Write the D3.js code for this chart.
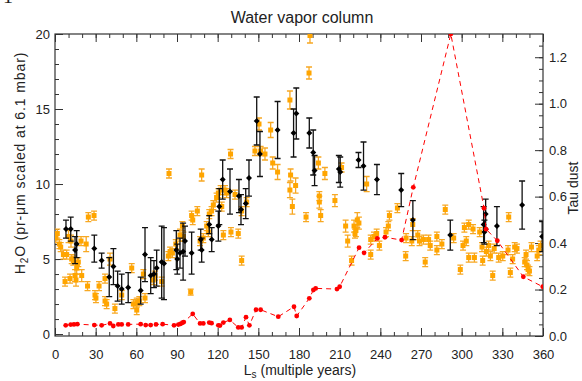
<!DOCTYPE html>
<html>
<head>
<meta charset="utf-8">
<script src="https://cdn.jsdelivr.net/npm/d3@7"></script>
<style>
  body { margin: 0; background: #fff; }
  svg { display: block; }
  text { font-family: "Liberation Sans", Arial, sans-serif; fill: #222; }
</style>
</head>
<body>
<div id="chart"></div>
<script>
// orange squares (H2O, left axis)
const lsOrange = [
  0.7,1.7,3.2,4.2,6.2,7.4,8.6,10.0,11.1,11.8,
  12.3,13.5,14.8,15.5,16.0,16.5,17.2,19.2,19.7,23.0,
  24.0,24.6,28.8,29.5,30.2,32.5,36.9,36.9,38.1,40.6,
  44.2,49.2,56.6,57.8,60.3,60.3,62.2,65.2,66.4,72.5,
  73.8,78.7,83.6,84.1,84.9,86.6,89.1,92.2,94.0,94.7,
  100.1,100.8,101.6,105.0,107.0,108.2,109.4,111.9,113.1,113.8,
  115.5,116.8,119.2,120.5,122.2,123.0,124.2,125.4,126.6,129.5,
  129.8,132.8,135.2,137.7,137.7,141.4,147.5,150.5,151.7,154.9,
  159.1,160.6,164.2,173.3,173.8,173.3,175.1,177.5,185.2,187.4,
  188.1,194.3,195.0,195.0,196.0,199.1,206.5,211.4,214.4,215.9,
  218.8,220.6,221.3,222.0,223.0,224.2,229.9,232.9,232.9,235.3,
  237.3,239.3,244.2,245.9,246.7,252.6,258.7,259.0,263.2,263.9,
  267.6,268.9,271.8,273.1,275.6,276.8,281.7,281.7,285.4,287.9,
  294.1,299.0,301.0,302.0,303.4,305.2,305.2,308.4,309.4,313.3,
  315.0,315.5,318.2,319.9,321.2,322.9,324.0,327.3,330.3,334.2,
  334.7,335.9,337.6,339.1,340.8,346.5,347.5,348.2,349.0,350.0,
  351.5,355.7,356.9,358.2
];
const h2oOrange = [
  6.4,6.7,6.0,5.8,5.3,3.5,5.3,6.5,3.7,6.2,
  5.0,4.9,3.9,3.6,4.4,4.7,4.8,6.2,3.9,6.0,
  3.2,7.8,7.9,2.6,2.4,3.2,3.7,2.2,2.0,5.0,
  1.7,2.6,4.4,2.0,2.1,1.6,2.2,4.0,2.4,3.6,
  3.9,3.5,5.2,10.7,5.5,5.4,6.0,6.6,7.2,6.5,
  2.8,7.9,7.6,8.2,6.2,10.6,6.4,7.2,6.8,8.0,
  8.2,8.6,9.1,9.4,9.6,8.5,6.6,9.6,9.4,12.0,
  6.8,9.3,6.7,4.9,8.2,8.8,12.2,14.0,12.2,12.0,
  13.6,11.4,10.8,15.6,10.6,9.6,8.5,9.9,7.8,17.4,
  19.9,11.4,9.2,8.8,7.9,10.7,8.9,11.1,7.2,6.2,
  4.9,7.2,6.7,6.9,7.6,7.4,10.0,6.3,5.3,6.5,
  6.7,5.9,6.8,7.2,7.9,8.4,5.2,6.4,6.2,7.3,
  6.6,6.2,6.3,4.8,6.3,5.9,6.5,5.6,6.0,8.3,
  6.4,4.3,5.9,7.1,6.2,7.3,5.1,7.0,5.1,6.8,
  5.8,4.9,5.5,5.9,5.2,3.9,5.7,5.1,5.2,5.6,
  7.8,4.1,5.0,5.8,5.7,4.8,5.3,4.6,4.3,4.2,
  5.8,5.2,5.6,5.9
];
const errOrange = [
  .3,.3,.3,.3,.3,.3,.3,.4,.3,.4,
  .3,.3,.4,.4,.4,.4,.3,.3,.4,.5,
  .3,.3,.3,.3,.3,.3,.3,.3,.3,.4,
  .3,.3,.3,.3,.3,.3,.3,.3,.3,.3,
  .3,.3,.3,.3,.3,.3,.3,.4,.3,.3,
  .2,.3,.3,.3,.3,.4,.3,.3,.3,.3,
  .3,.3,.3,.3,.3,.3,.3,.3,.3,.3,
  .3,.3,.3,.3,.3,.3,.3,.4,.3,.4,
  .5,.4,.5,.6,.4,.5,.5,.5,.3,.4,
  .5,.4,.3,.4,.4,.4,.4,.3,.4,.4,
  .3,.4,.3,.4,.5,.4,.5,.3,.3,.3,
  .3,.3,.3,.3,.3,.3,.3,.3,.3,.4,
  .3,.3,.3,.3,.3,.3,.3,.3,.3,.3,
  .3,.3,.3,.3,.3,.3,.3,.3,.3,.3,
  .3,.3,.3,.3,.3,.3,.3,.3,.3,.3,
  .3,.3,.3,.3,.3,.3,.3,.3,.3,.3,
  .3,.3,.3,.3
];

// black diamonds (H2O, left axis)
const lsBlack = [
  8.1,11.6,14.8,16.0,29.0,34.4,40.0,43.1,46.2,49.2,
  54.0,63.2,66.4,70.6,73.0,75.0,78.7,80.4,89.5,90.2,
  92.2,94.5,95.9,100.8,107.5,108.2,113.8,115.6,120.5,121.2,
  123.7,129.1,135.7,137.2,140.7,143.1,148.8,151.2,164.2,176.0,
  178.0,187.6,190.5,191.5,209.4,210.4,223.9,227.6,237.5,255.4,
  264.0,291.6,316.2,316.8,317.7,326.0,344.6,359.4
];
const h2oBlack = [
  7.0,7.0,5.6,6.0,5.7,4.9,3.8,4.5,3.2,3.0,
  3.1,2.9,5.3,3.9,4.0,4.4,4.8,4.7,5.6,5.0,
  5.4,5.5,6.2,5.4,6.3,5.6,7.3,6.3,7.2,8.5,
  10.3,9.5,9.2,8.3,8.7,10.4,14.2,12.0,13.6,13.4,
  14.7,13.4,12.1,10.9,11.0,10.8,11.6,11.2,10.3,9.6,
  7.6,6.6,7.3,6.8,8.0,7.2,8.6,6.5
];
const errBlack = [
  .6,.8,.9,.9,.9,.5,1.3,1.2,1.0,1.0,
  1.0,.9,1.8,1.2,.9,1.2,2.4,2.4,1.3,1.0,
  1.0,1.9,1.0,1.4,.7,.8,.6,.8,1.0,1.2,
  1.3,1.5,1.1,1.0,1.0,1.2,1.6,1.5,1.9,1.6,
  1.7,1.0,1.5,1.0,.9,1.0,.5,1.6,1.0,1.1,
  1.3,1.0,1.2,.8,1.0,1.3,1.6,1.0
];

// red dots (tau dust, right axis)
const lsTau = [
  7.9,11.6,14.0,16.5,29.0,34.4,40.6,43.0,46.7,49.2,
  54.0,63.2,66.9,70.6,74.5,79.4,87.8,91.0,92.5,94.0,
  95.0,101.6,107.0,109.4,113.8,115.5,120.5,121.7,124.2,129.0,
  135.2,137.7,140.9,143.4,148.3,151.7,164.7,176.3,178.3,187.6,
  190.6,192.3,208.0,210.0,224.3,228.0,237.8,243.4,255.7,264.3,
  292.0,316.5,318.0,326.3,345.5,359.8
];
const tauDust = [
  .046,.049,.050,.051,.047,.046,.054,.043,.050,.050,
  .050,.051,.047,.047,.050,.051,.046,.049,.052,.057,
  .060,.095,.054,.054,.058,.055,.046,.045,.058,.069,
  .037,.037,.081,.046,.113,.113,.083,.126,.086,.162,
  .198,.205,.202,.212,.380,.358,.420,.425,.413,.640,
  1.300,.550,.460,.410,.255,.212
];

const xTicks = d3.range(0, 361, 30);
const yTicks = [0, 5, 10, 15, 20];
const tauTicks = [0, 0.2, 0.4, 0.6, 0.8, 1.0, 1.2];

const W = 582, H = 381;
const margin = { top: 34, right: 39, bottom: 45, left: 55 };
const width = W - margin.left - margin.right;
const height = H - margin.top - margin.bottom;

const svg = d3.select("#chart").append("svg")
  .attr("width", W)
  .attr("height", H);

const x = d3.scaleLinear().domain([0, 360]).range([margin.left, margin.left + width]);
const y = d3.scaleLinear().domain([-0.13, 20]).range([margin.top + height, margin.top]);
const yTau = d3.scaleLinear().domain([0, 1.3]).range([margin.top + height, margin.top]);

svg.append("clipPath").attr("id", "plot")
  .append("rect")
  .attr("x", margin.left).attr("y", margin.top)
  .attr("width", width).attr("height", height);

// axes, ticks pointing inward
function styleAxis(g) {
  g.select(".domain").remove();
  g.selectAll("line").attr("stroke", "#333");
  g.selectAll("text").style("font-size", "13px").attr("fill", "#222");
}

svg.append("g")
  .attr("transform", `translate(0,${margin.top + height})`)
  .call(d3.axisBottom(x).tickValues(d3.range(0, 361, 10)).tickSize(-4).tickFormat(""))
  .call(styleAxis);
svg.append("g")
  .attr("transform", `translate(0,${margin.top + height})`)
  .call(d3.axisBottom(x).tickValues(xTicks).tickSize(-8).tickPadding(14))
  .call(styleAxis);
svg.append("g")
  .attr("transform", `translate(0,${margin.top})`)
  .call(d3.axisTop(x).tickValues(d3.range(0, 361, 10)).tickSize(-4).tickFormat(""))
  .call(styleAxis);
svg.append("g")
  .attr("transform", `translate(0,${margin.top})`)
  .call(d3.axisTop(x).tickValues(xTicks).tickSize(-8).tickFormat(""))
  .call(styleAxis);

svg.append("g")
  .attr("transform", `translate(${margin.left},0)`)
  .call(d3.axisLeft(y).tickValues(d3.range(0, 21, 1)).tickSize(-4).tickFormat(""))
  .call(styleAxis);
svg.append("g")
  .attr("transform", `translate(${margin.left},0)`)
  .call(d3.axisLeft(y).tickValues(yTicks).tickSize(-8).tickPadding(5))
  .call(styleAxis);

svg.append("g")
  .attr("transform", `translate(${margin.left + width},0)`)
  .call(d3.axisRight(yTau).tickValues(d3.range(0, 1.3, 0.05)).tickSize(-4).tickFormat(""))
  .call(styleAxis);
svg.append("g")
  .attr("transform", `translate(${margin.left + width},0)`)
  .call(d3.axisRight(yTau).tickValues(tauTicks).tickSize(-8).tickPadding(6).tickFormat(d3.format(".1f")))
  .call(styleAxis);

svg.append("rect")
  .attr("x", margin.left).attr("y", margin.top)
  .attr("width", width).attr("height", height)
  .attr("fill", "none").attr("stroke", "#333").attr("stroke-width", 1.2);

const plot = svg.append("g").attr("clip-path", "url(#plot)");

// orange series
const orange = lsOrange.map((d, i) => ({ ls: d, v: h2oOrange[i], e: errOrange[i] }));
const og = plot.append("g");
og.selectAll(".eb").data(orange).enter().append("path")
  .attr("d", d => {
    const cx = x(d.ls), t = y(d.v + d.e), b = y(d.v - d.e);
    return `M${cx},${t}V${b}M${cx - 3},${t}H${cx + 3}M${cx - 3},${b}H${cx + 3}`;
  })
  .attr("fill", "none").attr("stroke", "#f7a823").attr("stroke-width", 1.3);
og.selectAll(".sq").data(orange).enter().append("rect")
  .attr("x", d => x(d.ls) - 2.5).attr("y", d => y(d.v) - 2.5)
  .attr("width", 5).attr("height", 5)
  .attr("fill", "#ffa500");

// black series
const black = lsBlack.map((d, i) => ({ ls: d, v: h2oBlack[i], e: errBlack[i] }));
const bg = plot.append("g");
bg.selectAll(".eb").data(black).enter().append("path")
  .attr("d", d => {
    const cx = x(d.ls), t = y(d.v + d.e), b = y(d.v - d.e);
    return `M${cx},${t}V${b}M${cx - 3},${t}H${cx + 3}M${cx - 3},${b}H${cx + 3}`;
  })
  .attr("fill", "none").attr("stroke", "#111").attr("stroke-width", 1.3);
bg.selectAll(".dm").data(black).enter().append("path")
  .attr("d", d => {
    const cx = x(d.ls), cy = y(d.v);
    return `M${cx},${cy - 3}L${cx + 3},${cy}L${cx},${cy + 3}L${cx - 3},${cy}Z`;
  })
  .attr("fill", "#000");

// red dust opacity
const tau = lsTau.map((d, i) => ({ ls: d, t: tauDust[i] }));
plot.append("path")
  .datum(tau)
  .attr("d", d3.line().x(d => x(d.ls)).y(d => yTau(d.t)))
  .attr("fill", "none").attr("stroke", "#f00").attr("stroke-width", 1)
  .attr("stroke-dasharray", "5,4");
plot.selectAll(".rd").data(tau).enter().append("circle")
  .attr("cx", d => x(d.ls)).attr("cy", d => yTau(d.t)).attr("r", 2.4)
  .attr("fill", "#f00");

// labels
svg.append("text")
  .attr("x", 302).attr("y", 23)
  .attr("text-anchor", "middle")
  .style("font-size", "16px")
  .text("Water vapor column");

const yl = svg.append("text")
  .attr("transform", "translate(25,163) rotate(-90)")
  .attr("text-anchor", "middle")
  .style("font-size", "14px")
  .style("letter-spacing", "0.9px");
yl.append("tspan").text("H");
yl.append("tspan").attr("dy", 3).style("font-size", "10px").text("2");
yl.append("tspan").attr("dy", -3).text("O (pr-μm scaled at 6.1 mbar)");

svg.append("text")
  .attr("transform", "translate(578,188) rotate(-90)")
  .attr("text-anchor", "middle")
  .style("font-size", "14px")
  .text("Tau dust");

const xl = svg.append("text")
  .attr("x", 300).attr("y", 375)
  .attr("text-anchor", "middle")
  .style("font-size", "14px");
xl.append("tspan").text("L");
xl.append("tspan").attr("dy", 3).style("font-size", "10px").text("s");
xl.append("tspan").attr("dy", -3).text(" (multiple years)");

// clipped panel label in the corner
svg.append("text")
  .attr("x", 3).attr("y", 3)
  .style("font-family", "'Liberation Serif', serif")
  .style("font-size", "20px")
  .text("1");
</script>
</body>
</html>
